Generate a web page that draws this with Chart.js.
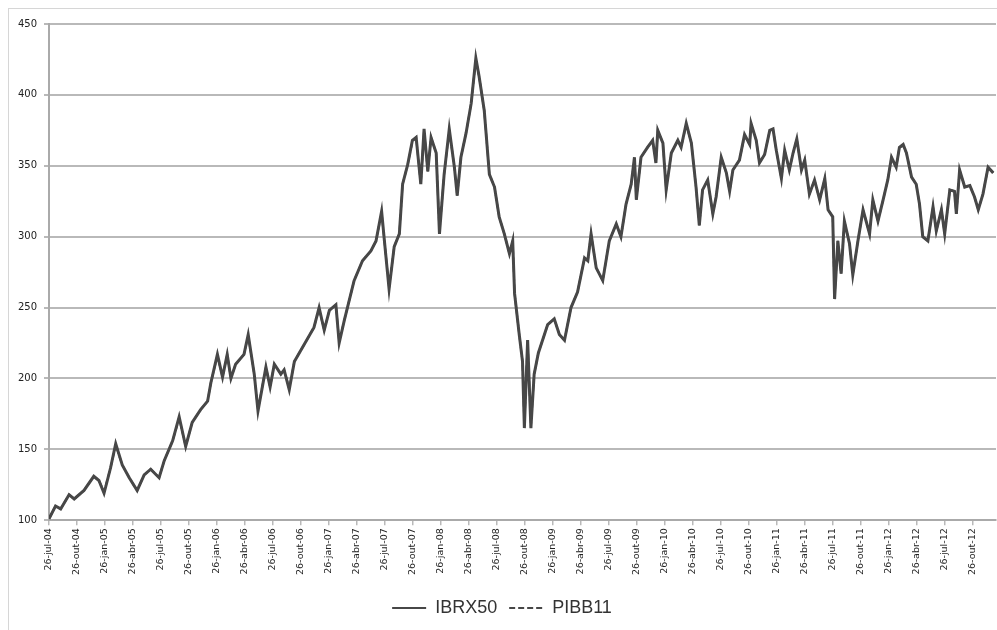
<!DOCTYPE html>
<html>
<head>
<meta charset="utf-8">
<script src="https://cdn.jsdelivr.net/npm/chart.js@4"></script>
<style>
  html, body { margin: 0; padding: 0; background: #fff; }
  #wrap { position: relative; width: 997px; height: 630px; }
  #frame { position: absolute; left: 8px; top: 8px; width: 1000px; height: 630px; border: 1px solid #d6d6d6; box-sizing: border-box; }
  #chart { position: absolute; left: 0; top: 0; }
</style>
</head>
<body>
<div id="wrap">
  <div id="frame"></div>
  <canvas id="chart" width="997" height="630"></canvas>
</div>
<script>
// quarterly tick labels on the x axis (one every 3 months from 26-jul-04)
const tickLabels = [
  "26-jul-04", "26-out-04",
  "26-jan-05", "26-abr-05", "26-jul-05", "26-out-05",
  "26-jan-06", "26-abr-06", "26-jul-06", "26-out-06",
  "26-jan-07", "26-abr-07", "26-jul-07", "26-out-07",
  "26-jan-08", "26-abr-08", "26-jul-08", "26-out-08",
  "26-jan-09", "26-abr-09", "26-jul-09", "26-out-09",
  "26-jan-10", "26-abr-10", "26-jul-10", "26-out-10",
  "26-jan-11", "26-abr-11", "26-jul-11", "26-out-11",
  "26-jan-12", "26-abr-12", "26-jul-12", "26-out-12"
];

// time of each reading, in months since 26-jul-04
const months = [
  0, 0.7, 1.25, 2.15, 2.7, 3.75, 4.8, 5.35, 5.9, 6.6, 7.15, 7.85, 8.6, 9.45, 10.2, 10.9, 11.8, 12.35,
  13.25, 13.95, 14.65, 15.35, 16.25, 17, 17.35, 18.05, 18.6, 19.1, 19.5, 20, 20.9, 21.35, 22, 22.4,
  23.25, 23.7, 24.15, 24.85, 25.2, 25.75, 26.3, 27.35, 28.4, 28.95, 29.5, 30.05, 30.75, 31.1, 31.65,
  32.7, 33.6, 34.5, 35.05, 35.65, 35.95, 36.45, 37, 37.55, 37.9, 38.45, 38.95, 39.35, 39.85, 40.2,
  40.6, 40.95, 41.5, 41.85, 42.35, 42.9, 43.45, 43.75, 44.15, 44.7, 45.25, 45.75, 46.1, 46.65, 47.2,
  47.75, 48.25, 48.8, 49.35, 49.7, 49.9, 50.4, 50.75, 50.95, 51.3, 51.65, 52, 52.45, 53.1, 53.45,
  54.15, 54.7, 55.25, 55.95, 56.65, 57.4, 57.75, 58.1, 58.65, 59.35, 60.05, 60.8, 61.3, 61.85, 62.4,
  62.75, 62.95, 63.45, 64.15, 64.7, 65.05, 65.25, 65.8, 66.15, 66.7, 67.4, 67.75, 68.3, 68.85, 69.35,
  69.7, 70.05, 70.6, 71.15, 71.5, 72.05, 72.6, 72.95, 73.3, 74, 74.55, 75.1, 75.25, 75.8, 76.15, 76.7,
  77.25, 77.6, 77.95, 78.5, 78.85, 79.35, 79.75, 80.15, 80.65, 81, 81.5, 82.05, 82.6, 83.15, 83.5, 84,
  84.2, 84.55, 84.9, 85.25, 85.8, 86.15, 86.7, 87.25, 87.95, 88.3, 88.85, 89.4, 89.9, 90.3, 90.8,
  91.15, 91.55, 91.9, 92.45, 92.95, 93.3, 93.65, 94.2, 94.75, 95.1, 95.65, 96, 96.55, 97.05, 97.25,
  97.6, 98.15, 98.7, 99.2, 99.6, 100.1, 100.65, 101.2
];

const ibrx50 = [
  101, 110, 108, 118, 115, 121, 131, 128, 119, 137, 154, 139, 130, 121, 132, 136, 130, 142,
  156, 173, 152, 169, 178, 184, 197, 217, 201, 217, 200, 210, 217, 231, 203, 177,
  208, 194, 210, 203, 206, 192, 212, 224, 236, 250, 234, 248, 252, 225, 241,
  269, 283, 290, 297, 318, 297, 263, 293, 302, 337, 351, 368, 370, 337, 376,
  346, 370, 359, 302, 344, 376, 349, 329, 356, 373, 394, 426, 413, 389, 344,
  335, 314, 302, 288, 297, 260, 231, 212, 165, 227, 165, 203, 218, 231, 238,
  242, 231, 227, 250, 261, 285, 283, 302, 278, 269, 297, 309, 300, 323, 337,
  356, 326, 356, 363, 368, 352, 375, 366, 333, 359, 368, 363, 380, 366, 335,
  308, 333, 340, 316, 328, 356, 345, 332, 347, 354, 372, 365, 380, 368, 352, 358,
  375, 376, 361, 341, 361, 347, 359, 369, 347, 354, 330, 340, 326, 341, 319, 314,
  256, 297, 274, 311, 295, 273, 297, 319, 302, 326, 311, 326, 340, 356, 349,
  363, 365, 359, 342, 337, 323, 300, 297, 321, 304, 319, 302, 333, 332, 316,
  347, 335, 336, 328, 319, 330, 349, 345
];

const pibb11 = [
  101, 110, 108, 118, 115, 121, 131, 128, 120, 137, 153, 139, 130, 121, 132, 136, 130, 142,
  156, 172, 152, 169, 178, 184, 197, 216, 201, 217, 200, 210, 217, 230, 203, 178,
  208, 194, 210, 203, 206, 193, 212, 224, 236, 249, 234, 248, 252, 226, 241,
  269, 283, 290, 297, 317, 297, 264, 293, 302, 337, 351, 367, 370, 337, 375,
  346, 370, 359, 303, 344, 375, 349, 329, 356, 373, 394, 425, 413, 389, 344,
  335, 314, 302, 288, 297, 260, 231, 212, 166, 227, 166, 203, 218, 231, 238,
  242, 231, 227, 250, 261, 285, 283, 302, 278, 269, 297, 309, 300, 323, 337,
  355, 326, 356, 363, 368, 352, 375, 366, 333, 359, 368, 363, 379, 366, 335,
  308, 333, 340, 316, 328, 356, 345, 332, 347, 354, 371, 365, 379, 368, 352, 358,
  375, 376, 361, 341, 361, 347, 359, 369, 347, 354, 330, 340, 326, 341, 319, 314,
  257, 297, 274, 311, 295, 273, 297, 319, 302, 326, 311, 326, 340, 356, 349,
  363, 364, 359, 342, 337, 323, 300, 297, 321, 304, 319, 302, 333, 332, 316,
  347, 335, 336, 328, 319, 330, 349, 345
];

const yTicks = [100, 150, 200, 250, 300, 350, 400, 450];

function toPoints(values) {
  return values.map((v, i) => ({ x: months[i], y: v }));
}

const lineColor = "#474747";
const gridColor = "#b9b9b9";

new Chart(document.getElementById("chart"), {
  type: "line",
  data: {
    datasets: [
      {
        label: "IBRX50",
        data: toPoints(ibrx50),
        borderColor: lineColor,
        backgroundColor: lineColor,
        borderWidth: 3,
        pointRadius: 0,
        tension: 0,
        order: 1
      },
      {
        label: "PIBB11",
        data: toPoints(pibb11),
        borderColor: lineColor,
        backgroundColor: lineColor,
        borderWidth: 2,
        borderDash: [6, 3],
        pointRadius: 0,
        tension: 0,
        order: 2
      }
    ]
  },
  options: {
    responsive: false,
    animation: false,
    layout: { padding: { left: 8, right: 1, top: 24, bottom: 3 } },
    plugins: {
      tooltip: { enabled: false },
      legend: {
        position: "bottom",
        labels: {
          usePointStyle: true,
          pointStyle: "line",
          pointStyleWidth: 34,
          color: "#333",
          padding: 12,
          font: { family: "Liberation Sans", size: 18 },
          generateLabels: (chart) => {
            const items = Chart.defaults.plugins.legend.labels.generateLabels(chart);
            return items.map((item) => {
              const ds = chart.data.datasets[item.datasetIndex];
              item.lineDash = ds.borderDash || [];
              item.lineWidth = 2;
              item.strokeStyle = lineColor;
              item.pointStyle = "line";
              return item;
            });
          }
        }
      }
    },
    scales: {
      x: {
        type: "linear",
        min: 0,
        max: 101.5,
        afterFit: (scale) => { scale.height += 9; },
        afterBuildTicks: (axis) => {
          axis.ticks = axis.ticks.filter((t) => t.value % 3 === 0 && t.value / 3 < tickLabels.length);
        },
        grid: { drawOnChartArea: false, drawTicks: true, tickLength: 5, color: gridColor, lineWidth: 1.5 },
        border: { display: true, color: "#aaa", width: 2 },
        ticks: {
          stepSize: 3,
          autoSkip: false,
          maxRotation: 90,
          minRotation: 90,
          padding: 3,
          color: "#222",
          font: { family: "DejaVu Sans", size: 9.5 },
          callback: (v) => tickLabels[Math.round(v / 3)] ?? ""
        }
      },
      y: {
        min: 100,
        max: 450,
        afterFit: (scale) => { scale.width = 41; },
        afterBuildTicks: (axis) => {
          axis.ticks = yTicks.map((v) => ({ value: v }));
        },
        grid: { color: gridColor, lineWidth: 2, drawTicks: true, tickLength: 5 },
        border: { display: true, color: "#aaa", width: 2 },
        ticks: {
          padding: 7,
          color: "#222",
          font: { family: "DejaVu Sans", size: 10 }
        }
      }
    }
  }
});
</script>
</body>
</html>
